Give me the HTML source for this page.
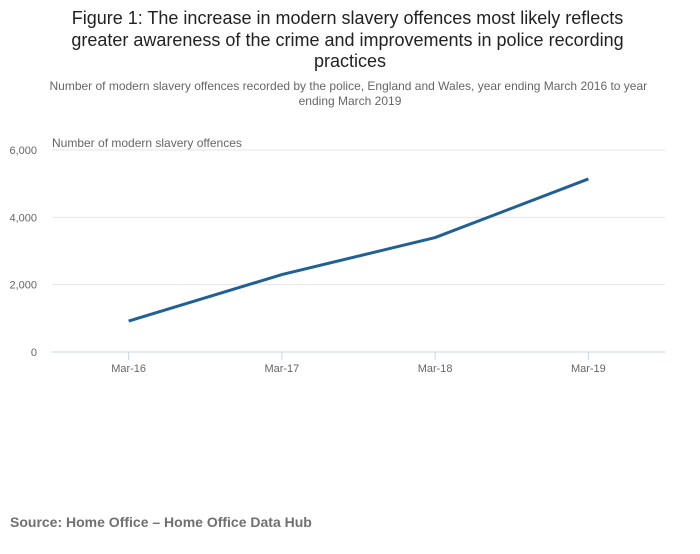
<!DOCTYPE html>
<html><head><meta charset="utf-8">
<style>
body{margin:0;background:#fff;width:700px;height:549px;overflow:hidden;font-family:"Liberation Sans",sans-serif;}
</style></head>
<body>
<svg width="700" height="549">
<text x="350" y="24" text-anchor="middle" font-size="18" fill="#222">
<tspan x="350" y="24">Figure 1: The increase in modern slavery offences most likely reflects</tspan>
<tspan x="350" y="46">greater awareness of the crime and improvements in police recording</tspan>
<tspan x="350" y="67">practices</tspan></text>
<text text-anchor="middle" font-size="12" fill="#666">
<tspan x="350" y="90">Number of modern slavery offences recorded by the police, England and Wales, year ending March 2016 to year</tspan>
<tspan x="350" y="105">ending March 2019</tspan></text>
<text x="52" y="147" font-size="12" fill="#666">Number of modern slavery offences</text>
<g id="grid"></g><g id="xax"></g>
<path id="line" fill="none" stroke="#206095" stroke-width="3"/>
<text x="10" y="527" font-size="14" font-weight="bold" fill="#707070">Source: Home Office – Home Office Data Hub</text>
</svg>
<script>
const categories=["Mar-16","Mar-17","Mar-18","Mar-19"];
const offences=[920,2300,3400,5140];
const yTicks=[0,2000,4000,6000];
const yTickLabels=["0","2,000","4,000","6,000"];
const ns="http://www.w3.org/2000/svg";
const x0=52,x1=665,yb=352,yt=150;
const y=v=>yb-(v/6000)*(yb-yt);
const bw=(x1-x0)/categories.length;
const x=i=>x0+bw*(i+0.5);
const g=document.getElementById('grid');
yTicks.forEach((t,i)=>{
 const l=document.createElementNS(ns,'line');
 
 
 l.setAttribute('x1',x0);l.setAttribute('x2',x1);l.setAttribute('y1',y(t));l.setAttribute('y2',y(t));
 l.setAttribute('stroke',t===0?'#c8d4e0':'#e6e6e6');g.appendChild(l);
 const tx=document.createElementNS(ns,'text');
 
 
 tx.setAttribute('x',37);tx.setAttribute('y',y(t)+4);tx.setAttribute('text-anchor','end');
 tx.setAttribute('font-size','11');tx.setAttribute('fill','#666');tx.textContent=yTickLabels[i];g.appendChild(tx);
});
const xa=document.getElementById('xax');
categories.forEach((c,i)=>{
 const l=document.createElementNS(ns,'line');
 
 
 l.setAttribute('x1',x(i));l.setAttribute('x2',x(i));l.setAttribute('y1',yb);l.setAttribute('y2',yb+8);
 l.setAttribute('stroke','#c8d4e0');xa.appendChild(l);
 const tx=document.createElementNS(ns,'text');
 
 
 tx.setAttribute('x',x(i));tx.setAttribute('y',yb+20);tx.setAttribute('text-anchor','middle');
 tx.setAttribute('font-size','11');tx.setAttribute('fill','#666');tx.textContent=c;xa.appendChild(tx);
});
document.getElementById('line').setAttribute('d',offences.map((v,i)=>(i?'L':'M')+x(i)+','+y(v)).join(' '));
</script>
</body></html>
